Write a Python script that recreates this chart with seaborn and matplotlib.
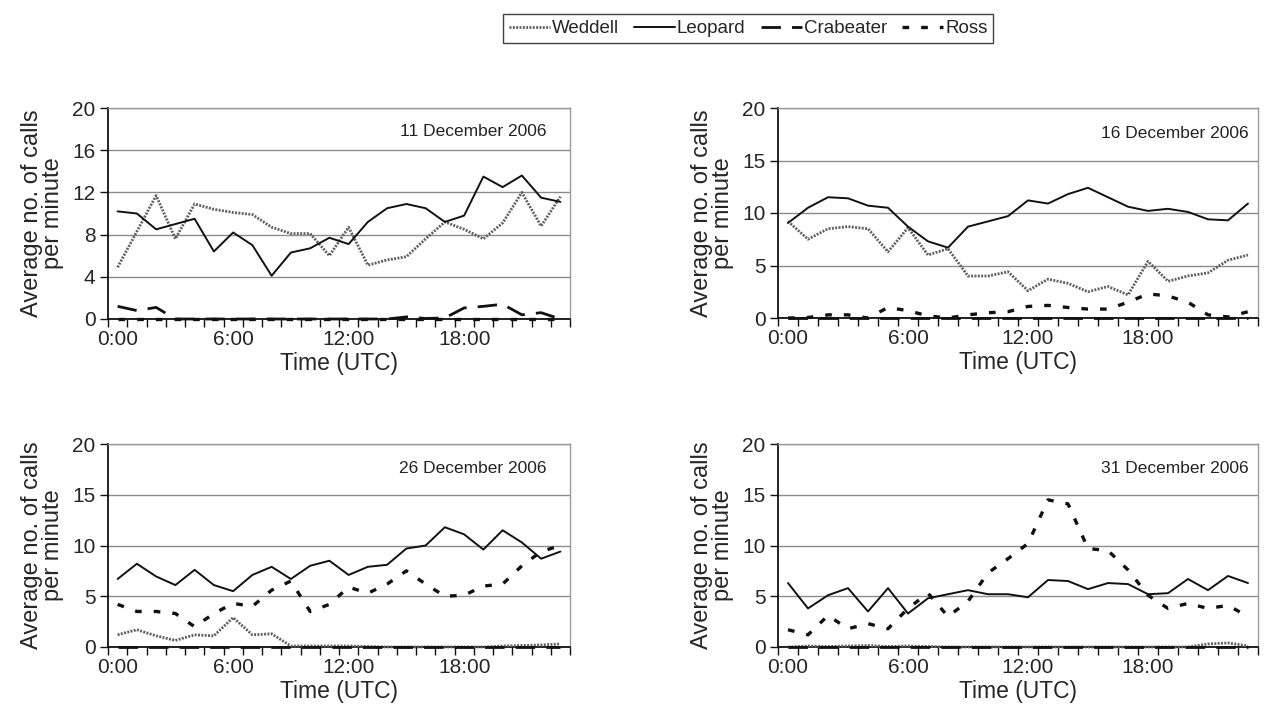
import numpy as np
import pandas as pd
import matplotlib
matplotlib.use("Agg")
import matplotlib.pyplot as plt
from matplotlib.lines import Line2D
import seaborn as sns

sns.set_style("white")
plt.rcParams['font.family'] = ['Liberation Sans', 'DejaVu Sans']

hours = list(range(24))
hour_labels = ["0:00", "6:00", "12:00", "18:00"]
hour_label_pos = [0, 6, 12, 18]
species = ["Weddell", "Leopard", "Crabeater", "Ross"]
dates = ["11 December 2006", "16 December 2006", "26 December 2006", "31 December 2006"]

# 11 December 2006
d11_weddell = [4.9, 8.3, 11.7, 7.6, 10.9, 10.4, 10.1, 9.9, 8.7, 8.1, 8.1, 6.0,
               8.7, 5.1, 5.6, 5.9, 7.6, 9.2, 8.5, 7.6, 9.1, 12.0, 8.8, 11.6]
d11_leopard = [10.2, 10.0, 8.5, 9.0, 9.5, 6.4, 8.2, 7.0, 4.1, 6.3, 6.7, 7.7,
               7.1, 9.2, 10.5, 10.9, 10.5, 9.2, 9.8, 13.5, 12.5, 13.6, 11.5, 11.1]
d11_crabeater = [1.2, 0.8, 1.1, 0.0, 0.0, 0.0, 0.0, 0.0, 0.0, 0.0, 0.0, 0.0,
                 0.0, 0.0, 0.0, 0.2, 0.05, 0.1, 1.05, 1.2, 1.4, 0.4, 0.6, 0.0]
d11_ross = [0.0] * 24

# 16 December 2006
d16_weddell = [9.2, 7.5, 8.5, 8.7, 8.5, 6.3, 8.6, 6.0, 6.6, 4.0, 4.0, 4.4,
               2.6, 3.7, 3.3, 2.5, 3.0, 2.2, 5.4, 3.5, 4.0, 4.3, 5.5, 6.0]
d16_leopard = [9.05, 10.5, 11.5, 11.4, 10.7, 10.5, 8.7, 7.3, 6.7, 8.7, 9.2, 9.7,
               11.2, 10.9, 11.8, 12.4, 11.5, 10.6, 10.2, 10.4, 10.1, 9.4, 9.3, 10.9]
d16_crabeater = [0.0] * 24
d16_ross = [0.0, 0.05, 0.3, 0.3, 0.0, 1.0, 0.7, 0.2, 0.0, 0.3, 0.5, 0.6,
            1.1, 1.2, 1.0, 0.85, 0.85, 1.5, 2.3, 2.1, 1.5, 0.3, 0.1, 0.6]

# 26 December 2006
d26_weddell = [1.2, 1.7, 1.1, 0.65, 1.2, 1.1, 2.9, 1.2, 1.3, 0.1, 0.1, 0.1,
               0.1, 0.05, 0.0, 0.0, 0.0, 0.0, 0.0, 0.0, 0.1, 0.15, 0.2, 0.3]
d26_leopard = [6.7, 8.2, 6.95, 6.1, 7.6, 6.1, 5.5, 7.1, 7.9, 6.7, 8.0, 8.5,
               7.1, 7.9, 8.1, 9.7, 10.0, 11.8, 11.1, 9.6, 11.5, 10.3, 8.7, 9.4]
d26_crabeater = [0.0] * 24
d26_ross = [4.2, 3.5, 3.5, 3.3, 2.0, 3.3, 4.3, 4.0, 5.6, 6.5, 3.5, 4.2,
            5.9, 5.3, 6.2, 7.5, 6.2, 5.0, 5.1, 6.0, 6.2, 8.0, 9.4, 10.0]

# 31 December 2006
d31_weddell = [0.0, 0.1, 0.05, 0.1, 0.15, 0.05, 0.1, 0.05, 0.0, 0.0, 0.0, 0.0,
               0.0, 0.0, 0.0, 0.0, 0.0, 0.0, 0.0, 0.0, 0.0, 0.3, 0.4, 0.1]
d31_leopard = [6.3, 3.8, 5.1, 5.8, 3.5, 5.8, 3.3, 4.8, 5.2, 5.6, 5.2, 5.2,
               4.9, 6.6, 6.5, 5.7, 6.3, 6.2, 5.2, 5.3, 6.7, 5.6, 7.0, 6.3]
d31_crabeater = [0.0] * 24
d31_ross = [1.7, 1.2, 3.1, 1.8, 2.3, 1.8, 3.8, 5.3, 3.0, 4.5, 7.3, 8.7,
            10.2, 14.5, 14.1, 9.7, 9.5, 7.6, 5.1, 3.8, 4.3, 3.8, 4.1, 3.0]

panels = [
    (d11_weddell, d11_leopard, d11_crabeater, d11_ross),
    (d16_weddell, d16_leopard, d16_crabeater, d16_ross),
    (d26_weddell, d26_leopard, d26_crabeater, d26_ross),
    (d31_weddell, d31_leopard, d31_crabeater, d31_ross),
]
yticks_sets = [[0, 4, 8, 12, 16, 20], [0, 5, 10, 15, 20], [0, 5, 10, 15, 20], [0, 5, 10, 15, 20]]

styles = {
    "Weddell": dict(color="#5e5e5e", lw=2.0, dashes=(0.7, 0.5)),
    "Leopard": dict(color="#111111", lw=1.4, dashes=None),
    "Crabeater": dict(color="#111111", lw=2.0, dashes=(7, 4)),
    "Ross": dict(color="#111111", lw=2.4, dashes=(2.0, 3.6)),
}

W, H = 1277, 724
fig = plt.figure(figsize=(W / 100, H / 100), dpi=100)
rects = [
    (108, 108, 570, 319),
    (778, 108, 1258, 318),
    (108, 444, 570, 647),
    (778, 444, 1258, 647),
]
date_pos = [(0.95, 0.89), (0.98, 0.88), (0.95, 0.88), (0.98, 0.88)]

for k, (l, t, r, b) in enumerate(rects):
    ax = fig.add_axes([l / W, 1 - b / H, (r - l) / W, (b - t) / H])
    vals = panels[k]
    for name, v in zip(species, vals):
        df = pd.DataFrame({"hour": hours, "calls": v})
        st = styles[name]
        sns.lineplot(data=df, x="hour", y="calls", ax=ax, color=st["color"],
                     linewidth=st["lw"], legend=False, zorder=3)
        ln = ax.lines[-1]
        ln.set_clip_on(False)
        if st["dashes"] is not None:
            ln.set_dashes(st["dashes"])
    yt = yticks_sets[k]
    ax.set_ylim(0, 20)
    ax.set_yticks(yt)
    ax.set_yticklabels([str(y) for y in yt], fontsize=15)
    ax.yaxis.grid(True, color="#8c8c8c", lw=1.0)
    ax.set_axisbelow(True)
    ax.set_xlim(-0.5, 23.5)
    ax.set_xticks(hour_label_pos)
    ax.set_xticklabels(hour_labels, fontsize=15)
    ax.set_xticks(np.arange(-0.5, 24, 1), minor=True)
    ax.tick_params(axis="x", which="major", length=0, pad=8)
    ax.tick_params(axis="x", which="minor", length=6, width=1, color="#111111", direction="out", bottom=True)
    ax.tick_params(axis="y", which="major", length=6, width=1, color="#111111", direction="out", left=True, pad=3)
    for s in ["left", "bottom"]:
        ax.spines[s].set_color("#111111")
        ax.spines[s].set_linewidth(1.3)
    for s in ["top", "right"]:
        ax.spines[s].set_color("#9a9a9a")
        ax.spines[s].set_linewidth(1.0)
    ax.set_xlabel("Time (UTC)", fontsize=16.5, labelpad=2)
    ax.set_ylabel("Average no. of calls\nper minute", fontsize=17, labelpad=6, linespacing=0.95)
    ax.text(date_pos[k][0], date_pos[k][1], dates[k], transform=ax.transAxes,
            ha="right", va="center", fontsize=12.5, color="#222222")

handles = []
for name in species:
    st = styles[name]
    h = Line2D([0], [0], color=st["color"], lw=st["lw"])
    if st["dashes"] is not None:
        h.set_dashes(st["dashes"])
    handles.append(h)
leg = fig.legend(handles, species, loc="upper center", bbox_to_anchor=(748 / W, 1 - 5 / H),
                 ncol=4, frameon=True, fancybox=False, edgecolor="#111111", fontsize=13.5,
                 handlelength=2.2, handletextpad=0.1, columnspacing=0.8, borderpad=0.3)
leg.get_frame().set_linewidth(1.0)

fig.savefig("out.png", dpi=100)
